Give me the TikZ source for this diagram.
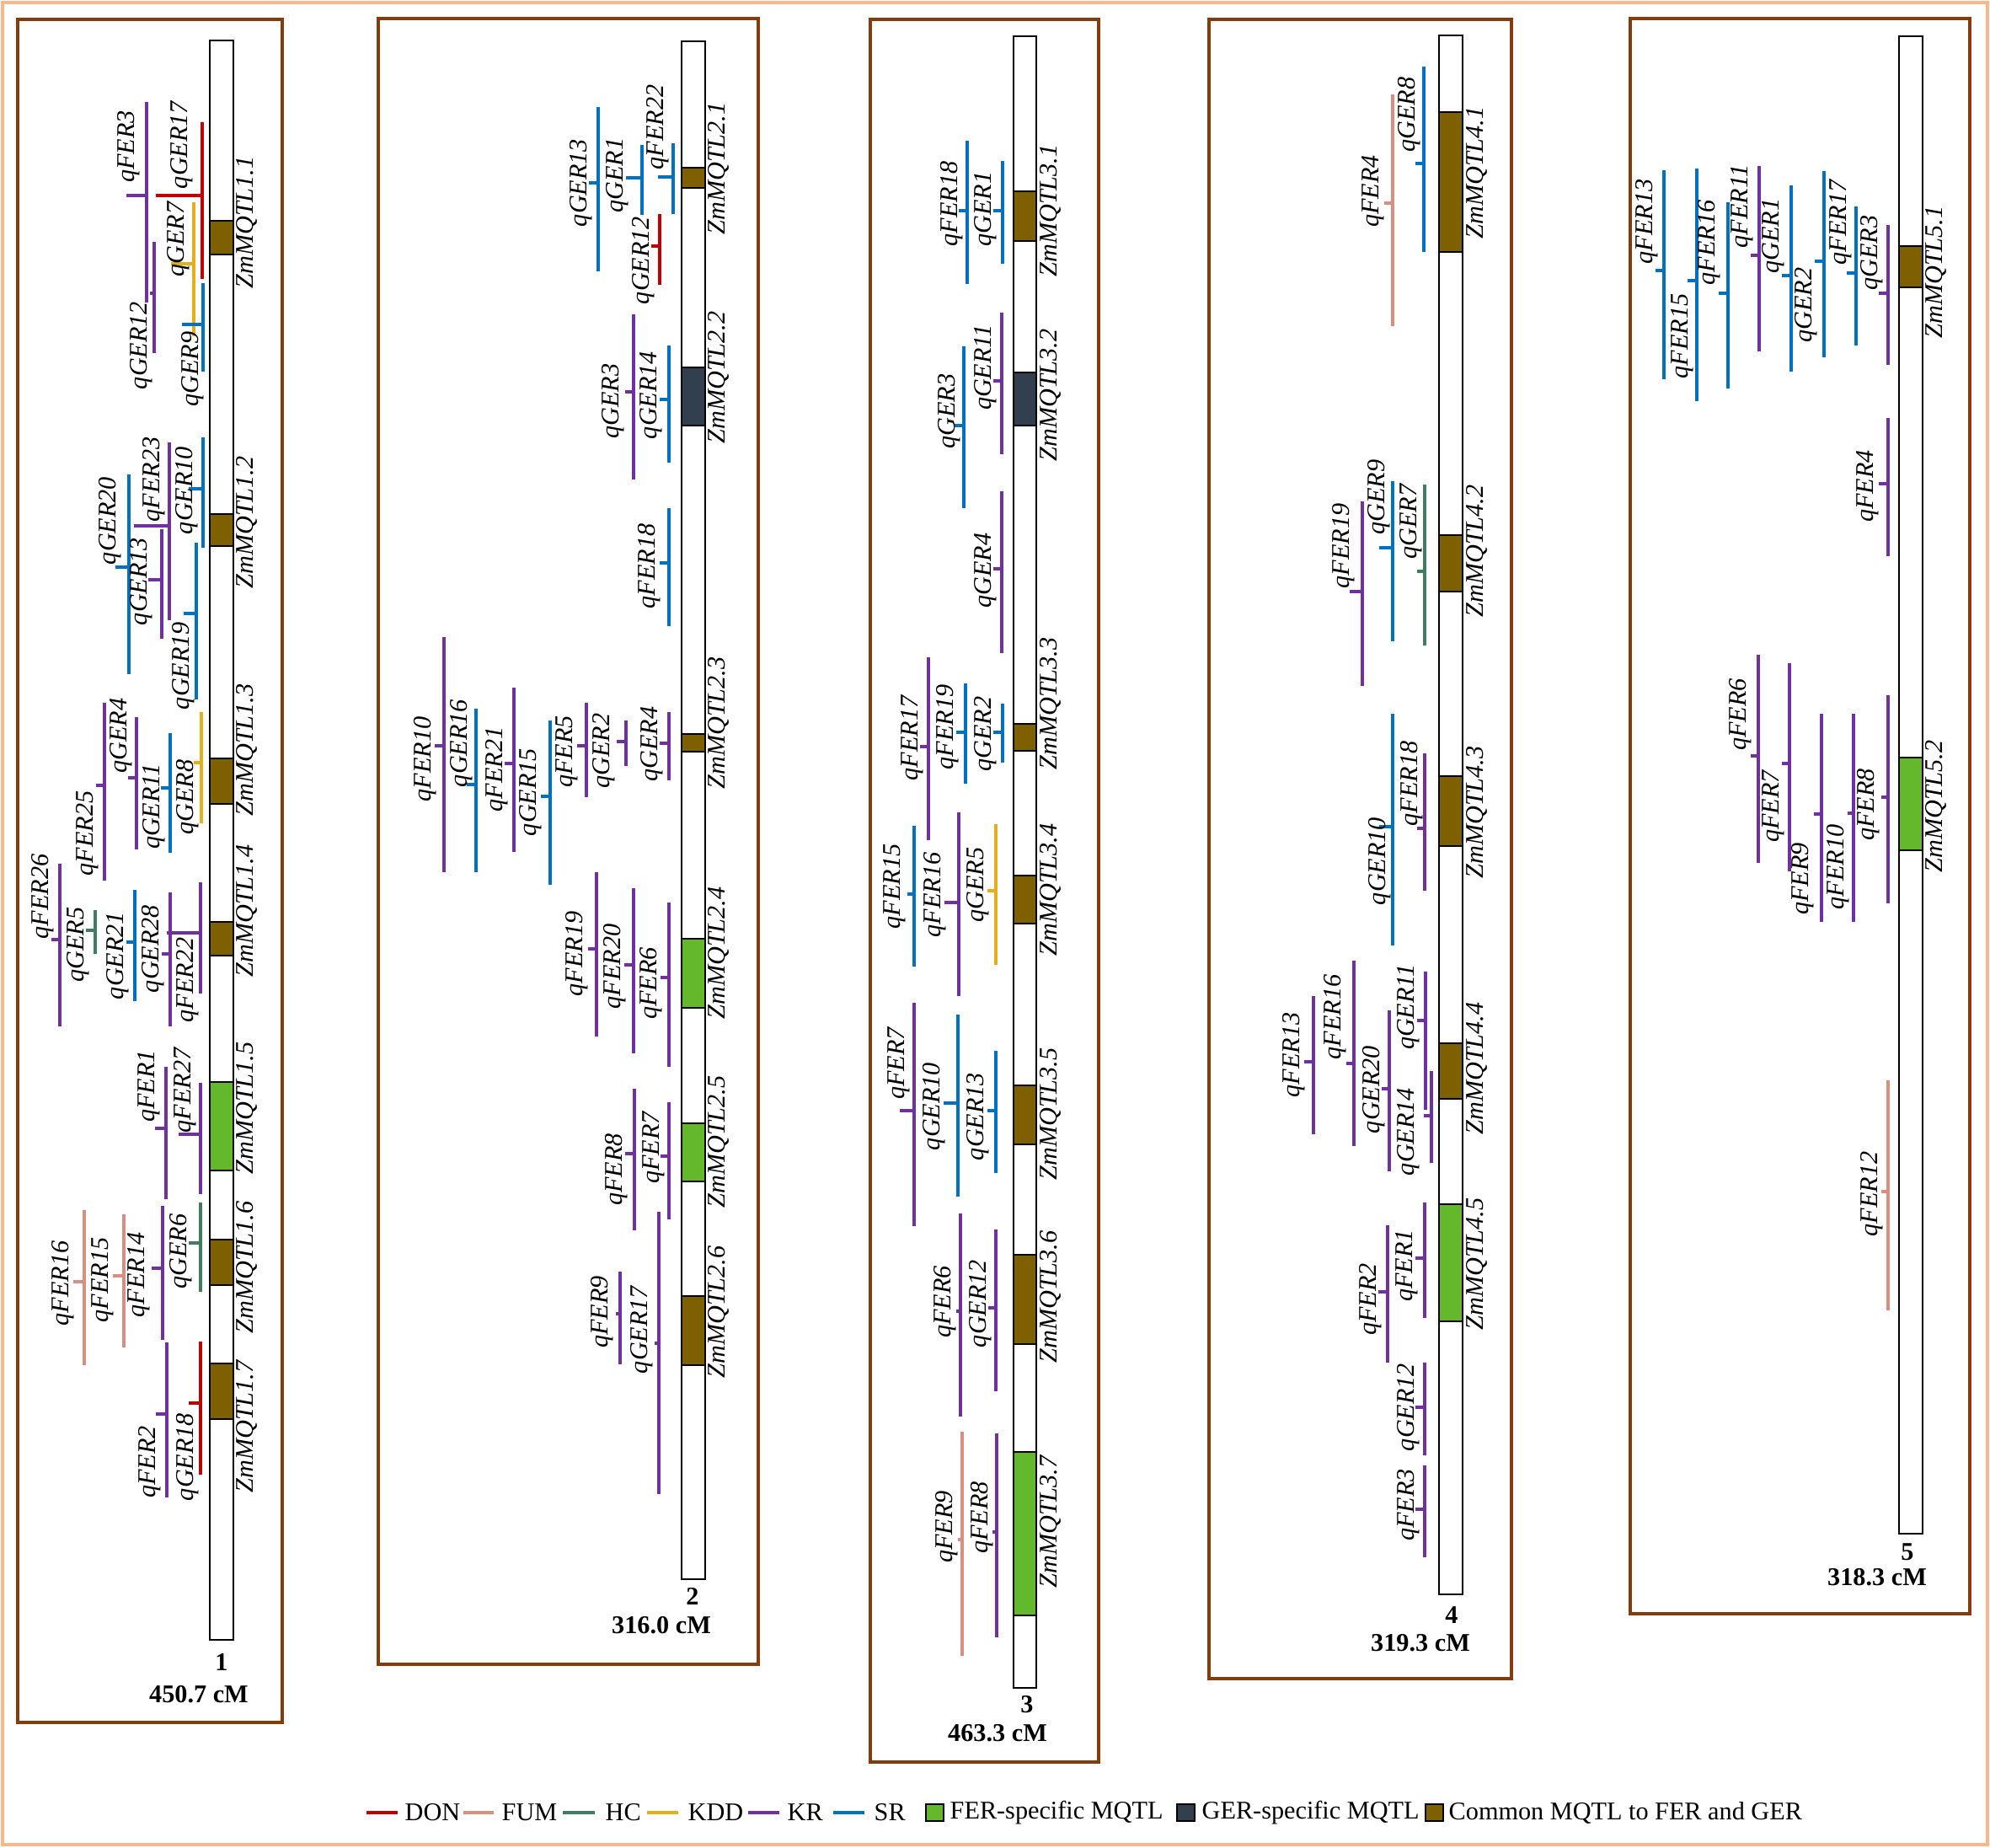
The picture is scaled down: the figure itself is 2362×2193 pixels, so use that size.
\documentclass[tikz,border=0pt]{standalone}
\usepackage{fontspec}
\setmainfont{Liberation Serif}
\definecolor{donred}{HTML}{C00000}
\definecolor{fumpink}{HTML}{D98F80}
\definecolor{hcgreen}{HTML}{3F7C62}
\definecolor{kddgold}{HTML}{E3B01C}
\definecolor{krpurple}{HTML}{7030A0}
\definecolor{srblue}{HTML}{0070C0}
\definecolor{ferfill}{HTML}{63B92B}
\definecolor{gerfill}{HTML}{323F4F}
\definecolor{comfill}{HTML}{7F6000}
\definecolor{panelbrown}{HTML}{843C0C}
\definecolor{outerorange}{HTML}{F8B88C}

\begin{document}
\begin{tikzpicture}[x=0.01cm, y=-0.01cm,
      don/.style={draw=donred, line width=1pt},
      fum/.style={draw=fumpink, line width=1pt},
      hc/.style={draw=hcgreen, line width=1pt},
      kdd/.style={draw=kddgold, line width=1pt},
      kr/.style={draw=krpurple, line width=1pt},
      sr/.style={draw=srblue, line width=1pt},
      qlab/.style={rotate=90, inner sep=0pt, font=\fontsize{8.6}{10}\selectfont\itshape},
      nlab/.style={inner sep=0pt, font=\fontsize{8.6}{10}\selectfont\bfseries},
      leg/.style={anchor=west, inner sep=0pt, font=\fontsize{8.6}{10}\selectfont},
      chrom/.style={draw=black, line width=0.8pt, fill=white},
      pane/.style={draw=panelbrown, line width=1.2pt},
      cmq/.style={draw=black, line width=0.5pt, fill=comfill},
      fmq/.style={draw=black, line width=0.5pt, fill=ferfill},
      gmq/.style={draw=black, line width=0.5pt, fill=gerfill}]

    \useasboundingbox (0,0) rectangle (2362,2193);
    \draw[draw=outerorange, line width=1.4pt] (3,3) rectangle (2359,2189);

    \draw[pane] (21,23) rectangle (335,2044);
    \draw[pane] (449,22) rectangle (900,1975);
    \draw[pane] (1033,23) rectangle (1304,2091);
    \draw[pane] (1435,23) rectangle (1794,1992);
    \draw[pane] (1935,22) rectangle (2338,1915);

    \draw[chrom] (249,48) rectangle (277,1946);
    \draw[cmq] (249,262) rectangle (277,302);
    \draw[cmq] (249,610) rectangle (277,648);
    \draw[cmq] (249,900) rectangle (277,954);
    \draw[cmq] (249,1094) rectangle (277,1134);
    \draw[fmq] (249,1284) rectangle (277,1389);
    \draw[cmq] (249,1471) rectangle (277,1525);
    \draw[cmq] (249,1618) rectangle (277,1684);
    \node[nlab] (n1) at (263,1972) {1};
    \node[nlab] (l1) at (236,2011) {450.7 cM};

    \node[qlab] (m11) at (293,264) {ZmMQTL1.1};
    \node[qlab] (m12) at (293,620) {ZmMQTL1.2};
    \node[qlab] (m13) at (293,890) {ZmMQTL1.3};
    \node[qlab] (m14) at (293,1081) {ZmMQTL1.4};
    \node[qlab] (m15) at (293,1315) {ZmMQTL1.5};
    \node[qlab] (m16) at (293,1504) {ZmMQTL1.6};
    \node[qlab] (m17) at (293,1693) {ZmMQTL1.7};

    \draw[kr] (174,121) -- (174,359) (150,232) -- (174,232);
    \draw[don] (240,145) -- (240,331) (185,232) -- (240,232);
    \draw[kr] (183,287) -- (183,419) (178,348) -- (183,348);
    \draw[kdd] (230,240) -- (230,399) (203,313) -- (230,313);
    \draw[sr] (241,336) -- (241,441) (216,385) -- (241,385);
    \draw[sr] (153,563) -- (153,800) (137,673) -- (153,673);
    \draw[kr] (201,525) -- (201,736) (159,624) -- (201,624);
    \draw[sr] (241,519) -- (241,650) (224,580) -- (241,580);
    \draw[kr] (192,628) -- (192,758) (176,688) -- (192,688);
    \draw[sr] (233,644) -- (233,830) (218,728) -- (233,728);
    \draw[kr] (124,834) -- (124,1045) (114,932) -- (124,932);
    \draw[kr] (162,851) -- (162,1008) (152,923) -- (162,923);
    \draw[sr] (202,870) -- (202,1012) (191,935) -- (202,935);
    \draw[kdd] (239,845) -- (239,977) (230,905) -- (239,905);
    \draw[kr] (71,1025) -- (71,1218) (61,1115) -- (71,1115);
    \draw[hc] (113,1080) -- (113,1132) (102,1104) -- (113,1104);
    \draw[sr] (160,1056) -- (160,1188) (150,1118) -- (160,1118);
    \draw[kr] (202,1059) -- (202,1218) (192,1132) -- (202,1132);
    \draw[kr] (238,1047) -- (238,1179) (198,1107) -- (238,1107);
    \draw[kr] (197,1266) -- (197,1423) (184,1339) -- (197,1339);
    \draw[kr] (238,1285) -- (238,1417) (212,1346) -- (238,1346);
    \draw[fum] (100,1436) -- (100,1620) (87,1521) -- (100,1521);
    \draw[fum] (147,1441) -- (147,1599) (134,1514) -- (147,1514);
    \draw[kr] (193,1431) -- (193,1590) (180,1505) -- (193,1505);
    \draw[hc] (238,1427) -- (238,1533) (224,1475) -- (238,1475);
    \draw[kr] (198,1593) -- (198,1777) (185,1678) -- (198,1678);
    \draw[don] (238,1592) -- (238,1750) (224,1665) -- (238,1665);

    \node[qlab] (c1FER3) at (153,174) {qFER3};
    \node[qlab] (c1GER17) at (216,172) {qGER17};
    \node[qlab] (c1GER12) at (168,410) {qGER12};
    \node[qlab] (c1GER7) at (212,284) {qGER7};
    \node[qlab] (c1GER9) at (229,438) {qGER9};
    \node[qlab] (c1GER20) at (131,618) {qGER20};
    \node[qlab] (c1FER23) at (183,569) {qFER23};
    \node[qlab] (c1GER10) at (222,582) {qGER10};
    \node[qlab] (c1GER13) at (168,690) {qGER13};
    \node[qlab] (c1GER19) at (218,790) {qGER19};
    \node[qlab] (c1FER25) at (104,989) {qFER25};
    \node[qlab] (c1GER4) at (144,873) {qGER4};
    \node[qlab] (c1GER11) at (183,957) {qGER11};
    \node[qlab] (c1GER8) at (223,946) {qGER8};
    \node[qlab] (c1FER26) at (51,1064) {qFER26};
    \node[qlab] (c1GER5) at (93,1121) {qGER5};
    \node[qlab] (c1GER21) at (140,1134) {qGER21};
    \node[qlab] (c1GER28) at (182,1126) {qGER28};
    \node[qlab] (c1FER22) at (223,1163) {qFER22};
    \node[qlab] (c1FER1) at (177,1289) {qFER1};
    \node[qlab] (c1FER27) at (220,1294) {qFER27};
    \node[qlab] (c1FER16) at (75,1523) {qFER16};
    \node[qlab] (c1FER15) at (122,1519) {qFER15};
    \node[qlab] (c1FER14) at (165,1513) {qFER14};
    \node[qlab] (c1GER6) at (215,1485) {qGER6};
    \node[qlab] (c1FER2) at (178,1735) {qFER2};
    \node[qlab] (c1GER18) at (223,1729) {qGER18};

    \draw[chrom] (809,49) rectangle (837,1874);
    \draw[cmq] (809,199) rectangle (837,223);
    \draw[gmq] (809,436) rectangle (837,505);
    \draw[cmq] (809,871) rectangle (837,892);
    \draw[fmq] (809,1114) rectangle (837,1196);
    \draw[fmq] (809,1333) rectangle (837,1402);
    \draw[cmq] (809,1538) rectangle (837,1620);
    \node[nlab] (n2) at (822,1894) {2};
    \node[nlab] (l2) at (785,1929) {316.0 cM};

    \node[qlab] (m21) at (853,200) {ZmMQTL2.1};
    \node[qlab] (m22) at (853,448) {ZmMQTL2.2};
    \node[qlab] (m23) at (853,858) {ZmMQTL2.3};
    \node[qlab] (m24) at (853,1131) {ZmMQTL2.4};
    \node[qlab] (m25) at (853,1355) {ZmMQTL2.5};
    \node[qlab] (m26) at (853,1557) {ZmMQTL2.6};

    \draw[sr] (710,127) -- (710,322) (699,217) -- (710,217);
    \draw[sr] (762,172) -- (762,255) (743,211) -- (762,211);
    \draw[sr] (799,170) -- (799,254) (781,210) -- (799,210);
    \draw[don] (783,254) -- (783,338) (773,292) -- (783,292);
    \draw[kr] (752,373) -- (752,569) (742,465) -- (752,465);
    \draw[sr] (794,410) -- (794,549) (783,474) -- (794,474);
    \draw[sr] (794,603) -- (794,743) (783,668) -- (794,668);
    \draw[kr] (527,756) -- (527,1035) (516,885) -- (527,885);
    \draw[sr] (565,841) -- (565,1035) (554,931) -- (565,931);
    \draw[kr] (610,816) -- (610,1011) (599,906) -- (610,906);
    \draw[sr] (653,855) -- (653,1050) (642,945) -- (653,945);
    \draw[kr] (696,834) -- (696,946) (685,885) -- (696,885);
    \draw[kr] (743,855) -- (743,909) (732,880) -- (743,880);
    \draw[kr] (794,845) -- (794,926) (783,882) -- (794,882);
    \draw[kr] (708,1035) -- (708,1230) (698,1126) -- (708,1126);
    \draw[kr] (752,1054) -- (752,1250) (741,1145) -- (752,1145);
    \draw[kr] (794,1071) -- (794,1266) (784,1160) -- (794,1160);
    \draw[kr] (753,1292) -- (753,1460) (742,1369) -- (753,1369);
    \draw[kr] (794,1308) -- (794,1447) (784,1372) -- (794,1372);
    \draw[kr] (782,1438) -- (782,1773) (777,1594) -- (782,1594);
    \draw[kr] (736,1509) -- (736,1619) (731,1559) -- (736,1559);

    \node[qlab] (c2GER13) at (690,217) {qGER13};
    \node[qlab] (c2GER1) at (733,208) {qGER1};
    \node[qlab] (c2FER22) at (781,151) {qFER22};
    \node[qlab] (c2GER12) at (764,309) {qGER12};
    \node[qlab] (c2GER3) at (728,476) {qGER3};
    \node[qlab] (c2GER14) at (773,469) {qGER14};
    \node[qlab] (c2FER18) at (771,672) {qFER18};
    \node[qlab] (c2FER10) at (505,901) {qFER10};
    \node[qlab] (c2GER16) at (548,882) {qGER16};
    \node[qlab] (c2FER21) at (590,913) {qFER21};
    \node[qlab] (c2GER15) at (630,940) {qGER15};
    \node[qlab] (c2FER5) at (673,892) {qFER5};
    \node[qlab] (c2GER2) at (717,891) {qGER2};
    \node[qlab] (c2GER4) at (774,883) {qGER4};
    \node[qlab] (c2FER19) at (685,1132) {qFER19};
    \node[qlab] (c2FER20) at (730,1147) {qFER20};
    \node[qlab] (c2FER6) at (773,1167) {qFER6};
    \node[qlab] (c2FER8) at (732,1388) {qFER8};
    \node[qlab] (c2FER7) at (776,1362) {qFER7};
    \node[qlab] (c2GER17) at (762,1578) {qGER17};
    \node[qlab] (c2FER9) at (715,1557) {qFER9};

    \draw[chrom] (1203,43) rectangle (1230,2003);
    \draw[cmq] (1203,227) rectangle (1230,286);
    \draw[gmq] (1203,442) rectangle (1230,505);
    \draw[cmq] (1203,859) rectangle (1230,891);
    \draw[cmq] (1203,1039) rectangle (1230,1096);
    \draw[cmq] (1203,1288) rectangle (1230,1358);
    \draw[cmq] (1203,1489) rectangle (1230,1595);
    \draw[fmq] (1203,1723) rectangle (1230,1917);
    \node[nlab] (n3) at (1219,2023) {3};
    \node[nlab] (l3) at (1184,2057) {463.3 cM};

    \node[qlab] (m31) at (1247,250) {ZmMQTL3.1};
    \node[qlab] (m32) at (1247,469) {ZmMQTL3.2};
    \node[qlab] (m33) at (1247,835) {ZmMQTL3.3};
    \node[qlab] (m34) at (1247,1056) {ZmMQTL3.4};
    \node[qlab] (m35) at (1247,1322) {ZmMQTL3.5};
    \node[qlab] (m36) at (1247,1539) {ZmMQTL3.6};
    \node[qlab] (m37) at (1247,1806) {ZmMQTL3.7};

    \draw[sr] (1148,167) -- (1148,337) (1138,250) -- (1148,250);
    \draw[sr] (1190,191) -- (1190,313) (1179,250) -- (1190,250);
    \draw[sr] (1144,411) -- (1144,603) (1133,505) -- (1144,505);
    \draw[kr] (1189,371) -- (1189,539) (1179,452) -- (1189,452);
    \draw[kr] (1189,583) -- (1189,775) (1179,675) -- (1189,675);
    \draw[kr] (1102,780) -- (1102,997) (1092,886) -- (1102,886);
    \draw[sr] (1146,811) -- (1146,930) (1135,869) -- (1146,869);
    \draw[sr] (1190,835) -- (1190,905) (1179,869) -- (1190,869);
    \draw[sr] (1085,980) -- (1085,1147) (1077,1061) -- (1085,1061);
    \draw[kr] (1138,964) -- (1138,1182) (1121,1071) -- (1138,1071);
    \draw[kdd] (1182,978) -- (1182,1145) (1172,1057) -- (1182,1057);
    \draw[kr] (1085,1190) -- (1085,1455) (1068,1318) -- (1085,1318);
    \draw[sr] (1137,1204) -- (1137,1420) (1120,1309) -- (1137,1309);
    \draw[sr] (1182,1247) -- (1182,1392) (1172,1318) -- (1182,1318);
    \draw[kr] (1140,1440) -- (1140,1681) (1135,1556) -- (1140,1556);
    \draw[kr] (1182,1459) -- (1182,1651) (1173,1552) -- (1182,1552);
    \draw[fum] (1142,1699) -- (1142,1965) (1137,1827) -- (1142,1827);
    \draw[kr] (1183,1701) -- (1183,1943) (1178,1818) -- (1183,1818);

    \node[qlab] (c3FER18) at (1130,242) {qFER18};
    \node[qlab] (c3GER1) at (1170,248) {qGER1};
    \node[qlab] (c3GER3) at (1127,488) {qGER3};
    \node[qlab] (c3GER11) at (1170,436) {qGER11};
    \node[qlab] (c3GER4) at (1170,677) {qGER4};
    \node[qlab] (c3FER17) at (1083,876) {qFER17};
    \node[qlab] (c3FER19) at (1125,863) {qFER19};
    \node[qlab] (c3GER2) at (1170,871) {qGER2};
    \node[qlab] (c3FER15) at (1062,1052) {qFER15};
    \node[qlab] (c3FER16) at (1110,1062) {qFER16};
    \node[qlab] (c3GER5) at (1161,1050) {qGER5};
    \node[qlab] (c3FER7) at (1067,1262) {qFER7};
    \node[qlab] (c3GER10) at (1109,1313) {qGER10};
    \node[qlab] (c3GER13) at (1161,1325) {qGER13};
    \node[qlab] (c3FER6) at (1122,1545) {qFER6};
    \node[qlab] (c3GER12) at (1164,1547) {qGER12};
    \node[qlab] (c3FER9) at (1124,1812) {qFER9};
    \node[qlab] (c3FER8) at (1166,1801) {qFER8};

    \draw[chrom] (1708,42) rectangle (1736,1892);
    \draw[cmq] (1708,133) rectangle (1736,299);
    \draw[cmq] (1708,635) rectangle (1736,702);
    \draw[cmq] (1708,921) rectangle (1736,1004);
    \draw[cmq] (1708,1238) rectangle (1736,1304);
    \draw[fmq] (1708,1429) rectangle (1736,1568);
    \node[nlab] (n4) at (1723,1917) {4};
    \node[nlab] (l4) at (1686,1950) {319.3 cM};

    \node[qlab] (m41) at (1753,205) {ZmMQTL4.1};
    \node[qlab] (m42) at (1753,654) {ZmMQTL4.2};
    \node[qlab] (m43) at (1753,964) {ZmMQTL4.3};
    \node[qlab] (m44) at (1753,1268) {ZmMQTL4.4};
    \node[qlab] (m45) at (1753,1500) {ZmMQTL4.5};

    \draw[fum] (1653,112) -- (1653,387) (1643,241) -- (1653,241);
    \draw[sr] (1690,79) -- (1690,299) (1680,194) -- (1690,194);
    \draw[kr] (1617,595) -- (1617,814) (1602,702) -- (1617,702);
    \draw[sr] (1653,571) -- (1653,761) (1637,650) -- (1653,650);
    \draw[hc] (1691,575) -- (1691,766) (1682,678) -- (1691,678);
    \draw[sr] (1653,847) -- (1653,1122) (1637,981) -- (1653,981);
    \draw[kr] (1691,894) -- (1691,1057) (1682,983) -- (1691,983);
    \draw[kr] (1559,1182) -- (1559,1346) (1548,1260) -- (1559,1260);
    \draw[kr] (1607,1140) -- (1607,1360) (1598,1262) -- (1607,1262);
    \draw[kr] (1649,1199) -- (1649,1390) (1640,1292) -- (1649,1292);
    \draw[kr] (1692,1153) -- (1692,1317) (1682,1211) -- (1692,1211);
    \draw[kr] (1699,1271) -- (1699,1380) (1690,1324) -- (1699,1324);
    \draw[kr] (1647,1454) -- (1647,1617) (1636,1533) -- (1647,1533);
    \draw[kr] (1691,1427) -- (1691,1564) (1680,1493) -- (1691,1493);
    \draw[kr] (1691,1617) -- (1691,1727) (1680,1670) -- (1691,1670);
    \draw[kr] (1691,1739) -- (1691,1848) (1680,1791) -- (1691,1791);

    \node[qlab] (c4FER4) at (1630,227) {qFER4};
    \node[qlab] (c4GER8) at (1673,136) {qGER8};
    \node[qlab] (c4FER19) at (1595,648) {qFER19};
    \node[qlab] (c4GER9) at (1637,590) {qGER9};
    \node[qlab] (c4GER7) at (1675,619) {qGER7};
    \node[qlab] (c4GER10) at (1638,1022) {qGER10};
    \node[qlab] (c4FER18) at (1676,930) {qFER18};
    \node[qlab] (c4FER13) at (1536,1252) {qFER13};
    \node[qlab] (c4FER16) at (1585,1207) {qFER16};
    \node[qlab] (c4GER20) at (1631,1293) {qGER20};
    \node[qlab] (c4GER11) at (1672,1195) {qGER11};
    \node[qlab] (c4GER14) at (1672,1343) {qGER14};
    \node[qlab] (c4FER2) at (1627,1542) {qFER2};
    \node[qlab] (c4FER1) at (1670,1502) {qFER1};
    \node[qlab] (c4GER12) at (1672,1670) {qGER12};
    \node[qlab] (c4FER3) at (1672,1786) {qFER3};

    \draw[chrom] (2254,43) rectangle (2282,1820);
    \draw[cmq] (2254,292) rectangle (2282,341);
    \draw[fmq] (2254,899) rectangle (2282,1009);
    \node[nlab] (n5) at (2264,1842) {5};
    \node[nlab] (l5) at (2228,1872) {318.3 cM};

    \node[qlab] (m51) at (2298,323) {ZmMQTL5.1};
    \node[qlab] (m52) at (2298,957) {ZmMQTL5.2};

    \draw[sr] (1975,202) -- (1975,450) (1965,321) -- (1975,321);
    \draw[sr] (2014,200) -- (2014,476) (2003,333) -- (2014,333);
    \draw[sr] (2051,240) -- (2051,461) (2040,348) -- (2051,348);
    \draw[kr] (2088,197) -- (2088,417) (2078,303) -- (2088,303);
    \draw[sr] (2126,220) -- (2126,441) (2115,327) -- (2126,327);
    \draw[sr] (2165,203) -- (2165,424) (2154,310) -- (2165,310);
    \draw[sr] (2203,245) -- (2203,410) (2192,324) -- (2203,324);
    \draw[kr] (2241,267) -- (2241,433) (2230,348) -- (2241,348);
    \draw[kr] (2241,496) -- (2241,660) (2230,574) -- (2241,574);
    \draw[kr] (2087,777) -- (2087,1024) (2078,897) -- (2087,897);
    \draw[kr] (2124,787) -- (2124,1034) (2115,906) -- (2124,906);
    \draw[kr] (2162,847) -- (2162,1094) (2153,966) -- (2162,966);
    \draw[kr] (2200,847) -- (2200,1094) (2193,965) -- (2200,965);
    \draw[kr] (2241,825) -- (2241,1072) (2233,946) -- (2241,946);
    \draw[fum] (2241,1282) -- (2241,1555) (2233,1414) -- (2241,1414);

    \node[qlab] (c5FER13) at (1955,263) {qFER13};
    \node[qlab] (c5FER15) at (1997,399) {qFER15};
    \node[qlab] (c5FER16) at (2029,288) {qFER16};
    \node[qlab] (c5FER11) at (2068,245) {qFER11};
    \node[qlab] (c5GER1) at (2105,280) {qGER1};
    \node[qlab] (c5GER2) at (2144,362) {qGER2};
    \node[qlab] (c5FER17) at (2185,264) {qFER17};
    \node[qlab] (c5GER3) at (2222,300) {qGER3};
    \node[qlab] (c5FER4) at (2217,577) {qFER4};
    \node[qlab] (c5FER6) at (2066,848) {qFER6};
    \node[qlab] (c5FER7) at (2105,957) {qFER7};
    \node[qlab] (c5FER9) at (2140,1043) {qFER9};
    \node[qlab] (c5FER10) at (2182,1029) {qFER10};
    \node[qlab] (c5FER8) at (2218,955) {qFER8};
    \node[qlab] (c5FER12) at (2222,1417) {qFER12};

    \draw[don, line width=1.3pt] (435,2151) -- (472,2151);
    \node[leg] (lgDON) at (480,2151) {DON};
    \draw[fum, line width=1.3pt] (550,2151) -- (586,2151);
    \node[leg] (lgFUM) at (595,2151) {FUM};
    \draw[hc, line width=1.3pt] (668,2151) -- (706,2151);
    \node[leg] (lgHC) at (718,2151) {HC};
    \draw[kdd, line width=1.3pt] (768,2151) -- (805,2151);
    \node[leg] (lgKDD) at (816,2151) {KDD};
    \draw[kr, line width=1.3pt] (888,2151) -- (925,2151);
    \node[leg] (lgKR) at (934,2151) {KR};
    \draw[sr, line width=1.3pt] (989,2151) -- (1026,2151);
    \node[leg] (lgSR) at (1037,2151) {SR};
    \draw[fmq] (1099,2141) rectangle (1120,2161);
    \node[leg] (lgFER) at (1127,2151) {FER-specific MQTL};
    \draw[gmq] (1397,2141) rectangle (1418,2161);
    \node[leg] (lgGER) at (1426,2151) {GER-specific MQTL};
    \draw[cmq] (1692,2141) rectangle (1713,2161);
    \node[leg] (lgCOM) at (1719,2151) {Common MQTL to FER and GER};

  \end{tikzpicture}
\end{document}
